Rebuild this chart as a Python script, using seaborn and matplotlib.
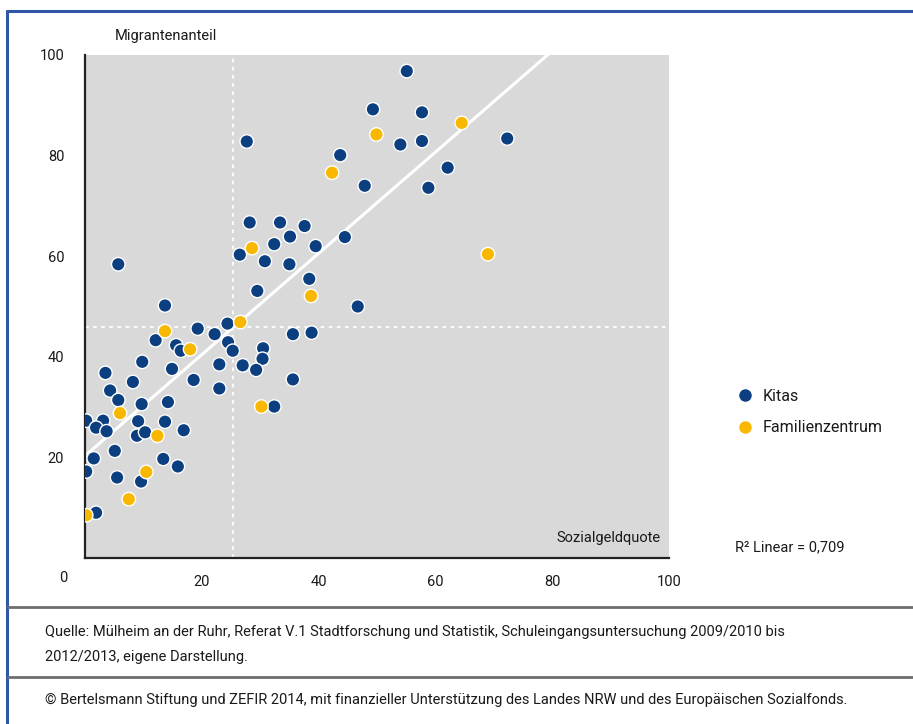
"""
Streudiagramm Sozialgeldquote vs. Migrantenanteil (Kitas / Familienzentren)
"""
import numpy as np
import pandas as pd
import matplotlib
matplotlib.use('Agg')
import matplotlib.pyplot as plt
from matplotlib.lines import Line2D
import seaborn as sns

# Kitas
kitas_x = [49.3, 27.7, 43.7, 47.9, 28.2, 33.4, 37.6, 35.1, 32.4, 39.5,
           44.5, 26.5, 30.8, 35.0, 5.7, 38.4, 29.5, 13.7, 46.7, 55.1,
           57.7, 54.0, 57.7, 72.3, 62.1, 58.8, 19.3, 12.1, 15.6, 16.4,
           22.2, 24.4, 24.5, 25.3, 30.5, 30.4, 27.0, 29.3, 23.0, 23.0,
           18.6, 9.8, 14.9, 3.5, 8.2, 4.3, 5.7, 9.7, 14.2, 32.4,
           0.2, 3.1, 1.9, 3.7, 9.1, 8.9, 10.3, 13.7, 16.9, 1.5,
           5.1, 13.4, 15.9, 0.2, 5.5, 9.6, 1.9, 35.6, 38.8, 35.6]
kitas_y = [89.2, 82.8, 80.1, 74.0, 66.7, 66.7, 66.0, 63.9, 62.4, 62.0,
           63.8, 60.3, 59.0, 58.4, 58.4, 55.5, 53.1, 50.2, 50.0, 96.8,
           88.6, 82.2, 82.9, 83.4, 77.6, 73.6, 45.6, 43.3, 42.3, 41.2,
           44.5, 46.6, 42.9, 41.2, 41.7, 39.6, 38.3, 37.4, 38.5, 33.7,
           35.4, 39.0, 37.6, 36.8, 35.0, 33.3, 31.4, 30.6, 31.0, 30.1,
           27.3, 27.3, 25.9, 25.2, 27.2, 24.3, 25.0, 27.1, 25.4, 19.8,
           21.3, 19.7, 18.2, 17.2, 16.0, 15.2, 9.0, 44.5, 44.8, 35.5]

# Familienzentren
fz_x = [49.9, 42.3, 28.6, 38.7, 64.5, 69.0, 13.7, 18.0, 26.6, 6.0,
        30.2, 12.4, 10.5, 7.5, 0.2]
fz_y = [84.2, 76.6, 61.6, 52.1, 86.5, 60.4, 45.1, 41.5, 46.9, 28.8,
        30.1, 24.3, 17.1, 11.7, 8.5]

groups = ['Kitas', 'Familienzentrum']
colors = {'Kitas': '#0b3f80', 'Familienzentrum': '#f8b800'}
ticks = [0, 20, 40, 60, 80, 100]
tick_labels = ['', '20', '40', '60', '80', '100']

df = pd.DataFrame({
    'Sozialgeldquote': kitas_x + fz_x,
    'Migrantenanteil': kitas_y + fz_y,
    'Gruppe': ['Kitas'] * len(kitas_x) + ['Familienzentrum'] * len(fz_x),
})

sns.set_style('white')
plt.rcParams['font.family'] = ['Roboto', 'DejaVu Sans']
plt.rcParams['font.stretch'] = 'condensed'
plt.rcParams['text.color'] = '#1a1a1a'

fig = plt.figure(figsize=(9.13, 7.24), dpi=100)
ax = fig.add_axes([85 / 913, 1 - 558 / 724, 584 / 913, 503 / 724])
ax.set_facecolor('#d9d9d9')
ax.set_xlim(0, 100)
ax.set_ylim(0, 100)

# mean lines
mx = df['Sozialgeldquote'].mean()
my = df['Migrantenanteil'].mean()
ax.axvline(mx, color='white', lw=1.3, ls=(0, (2, 2.5)), zorder=1)
ax.axhline(my, color='white', lw=1.3, ls=(0, (2, 2.5)), zorder=1)

# regression line across the whole x range
sns.regplot(data=df, x='Sozialgeldquote', y='Migrantenanteil', ax=ax,
            scatter=False, ci=None, truncate=False,
            line_kws={'color': 'white', 'lw': 2.2, 'zorder': 2})

sns.scatterplot(data=df, x='Sozialgeldquote', y='Migrantenanteil', hue='Gruppe',
                hue_order=groups, palette=colors, s=95, edgecolor='white',
                linewidth=1.0, ax=ax, zorder=3, legend=False)

ax.set_xlim(0, 100)
ax.set_ylim(0, 100)
ax.set_xlabel('')
ax.set_ylabel('')
ax.set_xticks(ticks)
ax.set_yticks(ticks)
ax.set_xticklabels(tick_labels)
ax.set_yticklabels(tick_labels)
ax.tick_params(axis='both', length=5, width=2.2, color='#111111', labelsize=10.5,
               labelcolor='#1a1a1a')
ax.tick_params(axis='x', pad=7)
ax.tick_params(axis='y', pad=10)
for side in ['top', 'right']:
    ax.spines[side].set_visible(False)
for side in ['left', 'bottom']:
    ax.spines[side].set_color('#222222')
    ax.spines[side].set_linewidth(1.6)

fig.text(63 / 913, 1 - 578 / 724, '0', fontsize=10.5, ha='center', va='center')
fig.text(115 / 913, 1 - 36 / 724, 'Migrantenanteil', fontsize=10.5, ha='left', va='center')
ax.text(0.985, 0.04, 'Sozialgeldquote', transform=ax.transAxes, fontsize=10.5,
        ha='right', va='center')
fig.text(735 / 913, 1 - 547 / 724, 'R² Linear = 0,709', fontsize=10.5,
         ha='left', va='center')

handles = [Line2D([], [], ls='', marker='o', markersize=10, markerfacecolor=colors[g],
                  markeredgecolor='white', markeredgewidth=1.0) for g in groups]
fig.legend(handles, groups, loc='center left', bbox_to_anchor=(737 / 913, 1 - 412 / 724),
           frameon=False, fontsize=11.5, handlelength=1.0, handletextpad=0.6,
           labelspacing=1.05, borderpad=0, borderaxespad=0)

# frame and separators
fig.add_artist(Line2D([7 / 913, 7 / 913], [0, 1 - 11 / 724], color='#3057a6', lw=2.2))
fig.add_artist(Line2D([7 / 913, 1], [1 - 11 / 724, 1 - 11 / 724], color='#3057a6', lw=2.2))
for yy in [607, 677]:
    fig.add_artist(Line2D([8 / 913, 1], [1 - yy / 724, 1 - yy / 724], color='#6e6e6e', lw=2.0))

fig.text(45 / 913, 1 - 632 / 724,
         'Quelle: Mülheim an der Ruhr, Referat V.1 Stadtforschung und Statistik, '
         'Schuleingangsuntersuchung 2009/2010 bis', fontsize=10.5, ha='left', va='center')
fig.text(45 / 913, 1 - 657 / 724, '2012/2013, eigene Darstellung.', fontsize=10.5,
         ha='left', va='center')
fig.text(45 / 913, 1 - 700 / 724,
         '© Bertelsmann Stiftung und ZEFIR 2014, mit finanzieller Unterstützung des Landes NRW '
         'und des Europäischen Sozialfonds.', fontsize=10.5, ha='left', va='center')

fig.savefig('out.png', dpi=100)
plt.close(fig)
